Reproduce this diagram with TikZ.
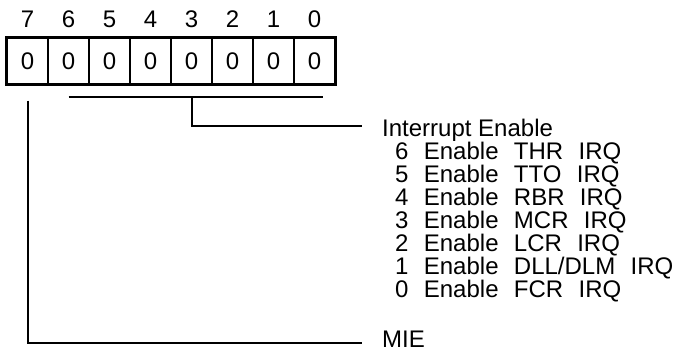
\documentclass[tikz,border=0pt]{standalone}
\usepackage{fontspec}
\setmainfont{Liberation Sans}
\usetikzlibrary{positioning}
\newcommand{\wgap}{\hspace{0.64em}}

\begin{document}
\begin{tikzpicture}[x=1pt, y=-1pt,
    every node/.style={font=\fontsize{24}{28}\selectfont, inner sep=0pt},
    cell/.style={draw, line width=1.2pt, minimum width=41pt, minimum height=46pt},
    wire/.style={line width=2pt}]
  \useasboundingbox (0,0) rectangle (674,351);
  % register bits
  \foreach \b in {0,...,7} {
    \pgfmathsetmacro{\cx}{27.5+41*(7-\b)}
    \node[cell] (b\b) at (\cx,61) {0};
    \node (n\b) at (\cx,19) {\b};
  }
  \draw[line width=3.5pt] (b7.north west) rectangle (b0.south east);
  % descriptions
  \node[anchor=base west] (ie) at (382,136) {Interrupt Enable};
  \foreach \k/\txt in {1/{6\wgap Enable\wgap THR\wgap IRQ},
                       2/{5\wgap Enable\wgap TTO\wgap IRQ},
                       3/{4\wgap Enable\wgap RBR\wgap IRQ},
                       4/{3\wgap Enable\wgap MCR\wgap IRQ},
                       5/{2\wgap Enable\wgap LCR\wgap IRQ},
                       6/{1\wgap Enable\wgap DLL/DLM\wgap IRQ},
                       7/{0\wgap Enable\wgap FCR\wgap IRQ}}
    \node[anchor=base west] (ie\k) at (395,136+23*\k) {\txt};
  \node[anchor=base west] (mie) at (382,347) {MIE};
  % connectors
  \draw[wire] ([yshift=-12pt]b6.south) -- ([xshift=8pt,yshift=-12pt]b0.south);
  \draw[wire] ([yshift=-12pt]b3.south) |- ([xshift=-20pt,yshift=10pt]ie.base west);
  \draw[wire] ([yshift=-16pt]b7.south) |- ([xshift=-20pt,yshift=4pt]mie.base west);
\end{tikzpicture}
\end{document}
